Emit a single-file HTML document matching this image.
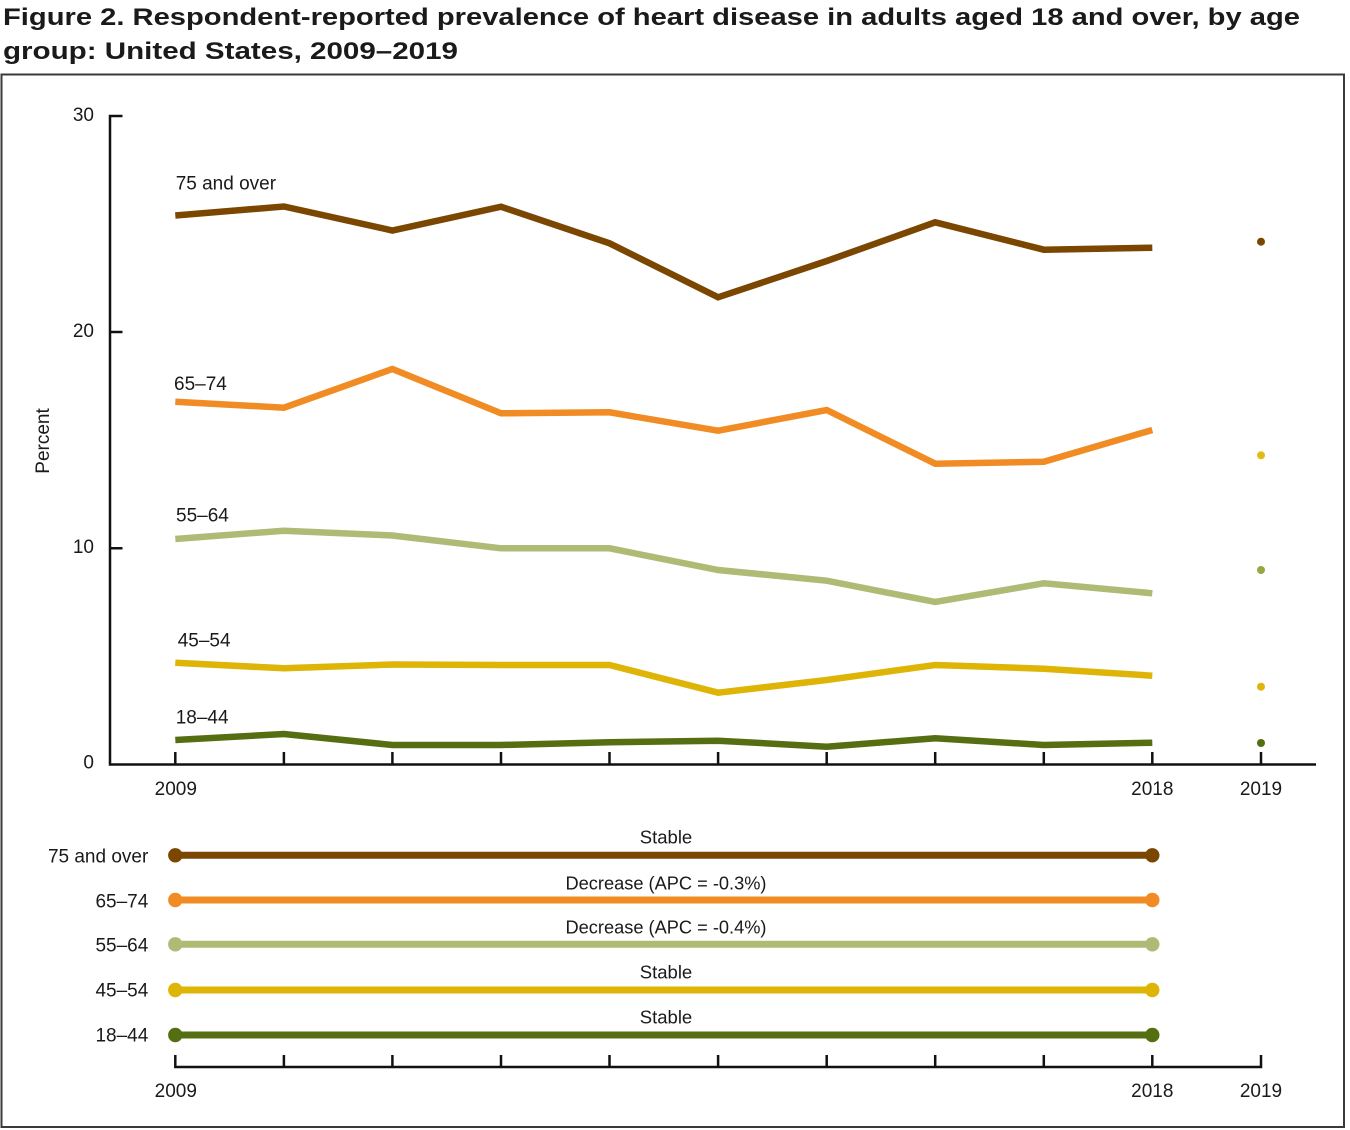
<!DOCTYPE html>
<html><head><meta charset="utf-8"><style>
html,body{margin:0;padding:0;background:#fff;}
svg{display:block;}
text{font-family:"Liberation Sans",sans-serif;fill:#1a1a1a;}
</style></head><body>
<svg width="1350" height="1130" viewBox="0 0 1350 1130" xmlns="http://www.w3.org/2000/svg">
<rect x="0" y="0" width="1350" height="1130" fill="#fff"/>
<text x="3" y="25" font-size="24" font-weight="bold" textLength="1297" lengthAdjust="spacingAndGlyphs">Figure 2. Respondent-reported prevalence of heart disease in adults aged 18 and over, by age</text>
<text x="3" y="59" font-size="24" font-weight="bold" textLength="455" lengthAdjust="spacingAndGlyphs">group: United States, 2009–2019</text>
<rect x="1.5" y="74.5" width="1342.5" height="1052.5" fill="none" stroke="#3a3a3a" stroke-width="2"/>

<!-- main axes -->
<g stroke="#111" stroke-width="2.5" fill="none">
<path d="M122.5 116 H110 V764.5 H1316"/>
<path d="M110 332 H122.5 M110 548.3 H122.5"/>
<path d="M175.3 752 V764.5 M283.9 752 V764.5 M392.4 752 V764.5 M501 752 V764.5 M609.5 752 V764.5 M718.1 752 V764.5 M826.7 752 V764.5 M935.2 752 V764.5 M1043.8 752 V764.5 M1152.3 752 V764.5 M1261 752 V764.5"/>
</g>
<g font-size="19" text-anchor="end">
<text x="94" y="121">30</text>
<text x="94" y="337">20</text>
<text x="94" y="553">10</text>
<text x="94" y="768.5">0</text>
</g>
<text transform="translate(49,441) rotate(-90)" font-size="19" text-anchor="middle">Percent</text>
<g font-size="19" text-anchor="middle">
<text x="175.8" y="795">2009</text>
<text x="1152.3" y="795">2018</text>
<text x="1261" y="795">2019</text>
</g>

<!-- series -->
<g fill="none" stroke-width="6.5" stroke-linejoin="miter" stroke-linecap="butt">
<polyline stroke="#7a4600" points="175.3,215.5 283.9,206.5 392.4,230.5 501,206.7 609.5,243.3 718.1,297.3 826.7,261 935.2,222.3 1043.8,249.7 1152.3,247.7"/>
<polyline stroke="#f08c23" points="175.3,401.7 283.9,407.7 392.4,369 501,413.3 609.5,412.3 718.1,430.7 826.7,410 935.2,463.7 1043.8,461.7 1152.3,430"/>
<polyline stroke="#adbb74" points="175.3,539 283.9,530.7 392.4,535.5 501,548.3 609.5,548.3 718.1,570 826.7,580.7 935.2,602 1043.8,583.3 1152.3,593.3"/>
<polyline stroke="#deb406" points="175.3,662.7 283.9,668.3 392.4,664.5 501,665 609.5,665 718.1,692.7 826.7,680 935.2,665 1043.8,668.7 1152.3,675.7"/>
<polyline stroke="#566e12" points="175.3,740 283.9,734 392.4,745 501,745 609.5,742.3 718.1,740.7 826.7,746.7 935.2,738.3 1043.8,745 1152.3,742.7"/>
</g>
<circle cx="1261" cy="241.7" r="4" fill="#7a4600"/>
<circle cx="1261" cy="455.3" r="4" fill="#e3bb17"/>
<circle cx="1261" cy="570" r="4" fill="#94a844"/>
<circle cx="1261" cy="686.7" r="4" fill="#e0b40c"/>
<circle cx="1261" cy="743" r="4" fill="#566e12"/>

<g font-size="19">
<text x="175.7" y="189.3">75 and over</text>
<text x="174" y="390">65–74</text>
<text x="176" y="521.7">55–64</text>
<text x="177.7" y="646.7">45–54</text>
<text x="175.7" y="723.3">18–44</text>
</g>

<!-- legend / trend section -->
<g stroke-width="7" fill="none">
<line x1="175.3" y1="855.3" x2="1152.3" y2="855.3" stroke="#7a4600"/>
<line x1="175.3" y1="900" x2="1152.3" y2="900" stroke="#f08c23"/>
<line x1="175.3" y1="944.3" x2="1152.3" y2="944.3" stroke="#adbb74"/>
<line x1="175.3" y1="990" x2="1152.3" y2="990" stroke="#deb406"/>
<line x1="175.3" y1="1035" x2="1152.3" y2="1035" stroke="#566e12"/>
</g>
<g>
<circle cx="175.3" cy="855.3" r="7.2" fill="#7a4600"/><circle cx="1152.3" cy="855.3" r="7.2" fill="#7a4600"/>
<circle cx="175.3" cy="900" r="7.2" fill="#f08c23"/><circle cx="1152.3" cy="900" r="7.2" fill="#f08c23"/>
<circle cx="175.3" cy="944.3" r="7.2" fill="#adbb74"/><circle cx="1152.3" cy="944.3" r="7.2" fill="#adbb74"/>
<circle cx="175.3" cy="990" r="7.2" fill="#deb406"/><circle cx="1152.3" cy="990" r="7.2" fill="#deb406"/>
<circle cx="175.3" cy="1035" r="7.2" fill="#566e12"/><circle cx="1152.3" cy="1035" r="7.2" fill="#566e12"/>
</g>
<g font-size="19" text-anchor="end">
<text x="148.3" y="862.7">75 and over</text>
<text x="148.3" y="907.3">65–74</text>
<text x="148.3" y="951.5">55–64</text>
<text x="148.3" y="996.7">45–54</text>
<text x="148.3" y="1041.7">18–44</text>
</g>
<g font-size="18.5" text-anchor="middle">
<text x="666" y="843.3">Stable</text>
<text x="666" y="889.3" textLength="201" lengthAdjust="spacingAndGlyphs">Decrease (APC = -0.3%)</text>
<text x="666" y="933.3" textLength="201" lengthAdjust="spacingAndGlyphs">Decrease (APC = -0.4%)</text>
<text x="666" y="978.5">Stable</text>
<text x="666" y="1023.5">Stable</text>
</g>
<g stroke="#111" stroke-width="2.5" fill="none">
<path d="M175.3 1055 V1067 H1261 V1055"/>
<path d="M283.9 1055 V1067 M392.4 1055 V1067 M501 1055 V1067 M609.5 1055 V1067 M718.1 1055 V1067 M826.7 1055 V1067 M935.2 1055 V1067 M1043.8 1055 V1067 M1152.3 1055 V1067"/>
</g>
<g font-size="19" text-anchor="middle">
<text x="175.8" y="1097">2009</text>
<text x="1152.3" y="1097">2018</text>
<text x="1261" y="1097">2019</text>
</g>
</svg>
</body></html>
